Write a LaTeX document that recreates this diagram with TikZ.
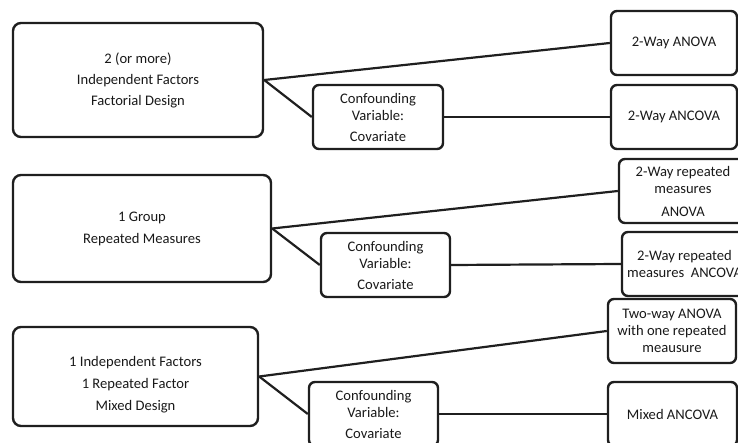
\documentclass[tikz,border=0pt]{standalone}
\usepackage{fontspec}
\setmainfont{Carlito}
\begin{document}
\begin{tikzpicture}[x=1pt,y=-1pt,
  box/.style={draw=black!88, line width=2.4pt, rounded corners=8pt, inner sep=0pt,
    align=center, text=black!90, font=\fontsize{14.6}{17}\selectfont},
  txt/.style={align=center, text=black!90, inner sep=0pt, font=\fontsize{14.6}{17}\selectfont},
  conn/.style={draw=black!88, line width=2.2pt}]
\useasboundingbox (0,0) rectangle (738,443);
\clip (0,0) rectangle (738,443);

% group 1
\node[box, minimum width=250pt, minimum height=114pt] (A1) at (138,80)
  {2 (or more)\\[4pt]Independent Factors\\[4pt]Factorial Design};
\node[box, minimum width=130pt, minimum height=64pt, rounded corners=6pt] (C1) at (378,117)
  {Confounding\\Variable:\\[4pt]Covariate};
\node[box, minimum width=126pt, minimum height=64pt, rounded corners=6pt] (R1a) at (674,43)
  {2-Way ANOVA};
\node[box, minimum width=126pt, minimum height=64pt, rounded corners=6pt] (R1b) at (674,117)
  {2-Way ANCOVA};

% group 2
\node[box, minimum width=258pt, minimum height=107pt] (A2) at (142,228.5)
  {1 Group\\[5pt]Repeated Measures};
\node[box, minimum width=129pt, minimum height=64pt, rounded corners=6pt] (C2) at (385.5,265)
  {Confounding\\Variable:\\[4pt]Covariate};
\node[box, minimum width=128pt, minimum height=64pt, rounded corners=6pt] (R2a) at (683,191)
  {2-Way repeated\\measures\\[6pt]ANOVA};
\node[box, minimum width=125pt, minimum height=64pt, rounded corners=6pt] (R2b) at (684.5,264)
  {2-Way repeated\\measures~~ANCOVA};

% group 3
\node[box, minimum width=245pt, minimum height=99pt] (A3) at (135.5,376.5) {};
\node[txt] (A3t) at (135.5,385)
  {1 Independent Factors\\[5pt]1 Repeated Factor\\[5pt]Mixed Design};
\node[box, minimum width=129pt, minimum height=64pt, rounded corners=6pt] (C3) at (373.5,414)
  {Confounding\\Variable:\\[4pt]Covariate};
\node[box, minimum width=128pt, minimum height=64pt, rounded corners=6pt] (R3a) at (672,331)
  {Two-way ANOVA\\with one repeated\\meausure};
\node[box, minimum width=129pt, minimum height=64pt, rounded corners=6pt] (R3b) at (672.5,414)
  {Mixed ANCOVA};

% connectors
\draw[conn] (A1.east) -- (R1a.west);
\draw[conn] (A1.east) -- (C1.west);
\draw[conn] (C1.east) -- (R1b.west);
\draw[conn] (A2.east) -- (R2a.west);
\draw[conn] (A2.east) -- (C2.west);
\draw[conn] (C2.east) -- (R2b.west);
\draw[conn] (A3.east) -- (R3a.west);
\draw[conn] (A3.east) -- (C3.west);
\draw[conn] (C3.east) -- (R3b.west);
\end{tikzpicture}
\end{document}
